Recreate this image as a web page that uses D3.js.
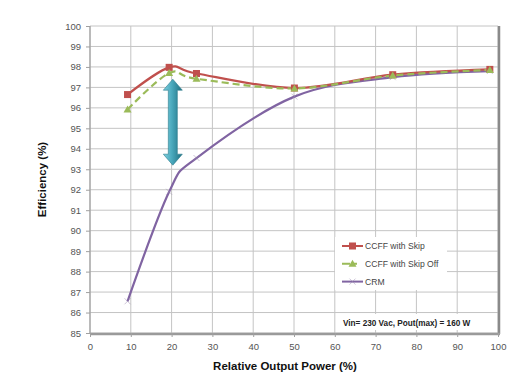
<!DOCTYPE html>
<html lang="en">
<head>
<meta charset="UTF-8">
<title>Efficiency</title>
<script src="https://d3js.org/d3.v7.min.js"></script>
<style>
  body { margin: 0; background: #fff; }
  text { font-family: "Liberation Sans", Arial, sans-serif; }
</style>
</head>
<body>
<svg></svg>
<script>
const W = 530, H = 376;

// data
const loads = [9.2, 19.4, 26.1, 50.1, 74.2, 98.0];
const skipOn = [96.65, 97.98, 97.68, 96.97, 97.62, 97.88];
const skipOff = [95.92, 97.70, 97.42, 96.95, 97.58, 97.85];
const crm = [86.55, 91.9, 93.55, 96.55, 97.5, 97.8];
const seriesNames = ["CCFF with Skip", "CCFF with Skip Off", "CRM"];
const xTicks = d3.range(0, 101, 10);
const yTicks = d3.range(85, 101, 1);
const note = "Vin= 230 Vac, Pout(max) = 160 W";

const colors = ["#c0504d", "#9bbb59", "#8064a2"];

const svg = d3.select("svg").attr("width", W).attr("height", H);

const x = d3.scaleLinear().domain([0, 100]).range([90, 498]);
const y = d3.scaleLinear().domain([85, 100]).range([333, 26]);

// grid
const grid = svg.append("g");
grid.selectAll("line.v").data(xTicks).enter().append("line")
  .attr("x1", d => x(d)).attr("x2", d => x(d))
  .attr("y1", y(100)).attr("y2", y(85))
  .attr("stroke", "#c4c4c4").attr("stroke-width", 1);
grid.selectAll("line.h").data(yTicks).enter().append("line")
  .attr("x1", x(0)).attr("x2", x(100))
  .attr("y1", d => y(d)).attr("y2", d => y(d))
  .attr("stroke", "#c4c4c4").attr("stroke-width", 1);

// frame: shadowed right and bottom edges
svg.append("line").attr("x1", x(100) + 1).attr("x2", x(100) + 1)
  .attr("y1", y(100)).attr("y2", y(85) + 1)
  .attr("stroke", "#8a8a8a").attr("stroke-width", 2.5);
svg.append("line").attr("x1", x(0)).attr("x2", x(100) + 2)
  .attr("y1", y(85) + 1).attr("y2", y(85) + 1)
  .attr("stroke", "#9a9a9a").attr("stroke-width", 2.5);
svg.append("line").attr("x1", x(0)).attr("x2", x(0))
  .attr("y1", y(100)).attr("y2", y(85))
  .attr("stroke", "#a0a0a0").attr("stroke-width", 1.2);

// axes
const xAxis = svg.append("g").attr("transform", `translate(0,${y(85)})`)
  .call(d3.axisBottom(x).tickValues(xTicks).tickSize(4).tickPadding(6));
const yAxis = svg.append("g").attr("transform", `translate(${x(0)},0)`)
  .call(d3.axisLeft(y).tickValues(yTicks).tickSize(4).tickPadding(5));
[xAxis, yAxis].forEach(a => {
  a.select(".domain").remove();
  a.selectAll("line").attr("stroke", "#a0a0a0");
  a.selectAll("text").attr("fill", "#555").attr("font-size", 9.5)
    .style("font-family", "'Liberation Sans', Arial, sans-serif");
});

// curves (Excel-style smoothed lines)
const line = d3.line()
  .x((d, i) => x(loads[i]))
  .y(d => y(d))
  .curve(d3.curveCatmullRom.alpha(0));

svg.append("path").datum(crm).attr("d", line)
  .attr("fill", "none").attr("stroke", colors[2]).attr("stroke-width", 2.2);
svg.append("path").datum(skipOn).attr("d", line)
  .attr("fill", "none").attr("stroke", colors[0]).attr("stroke-width", 2.2);
svg.append("path").datum(skipOff).attr("d", line)
  .attr("fill", "none").attr("stroke", colors[1]).attr("stroke-width", 2.2)
  .attr("stroke-dasharray", "7,4");

// markers
function square(g, cx, cy, c) {
  g.append("rect").attr("x", cx - 3.5).attr("y", cy - 3.5)
    .attr("width", 7).attr("height", 7).attr("fill", c);
}
function triangle(g, cx, cy, c) {
  g.append("path").attr("d", `M${cx},${cy - 4}L${cx + 4},${cy + 3}L${cx - 4},${cy + 3}Z`)
    .attr("fill", c);
}
function cross(g, cx, cy, c) {
  g.append("path").attr("d", `M${cx - 3},${cy - 3}L${cx + 3},${cy + 3}M${cx - 3},${cy + 3}L${cx + 3},${cy - 3}`)
    .attr("stroke", c).attr("stroke-width", 0.8).attr("opacity", 0.6);
}
const markers = svg.append("g");
crm.forEach((v, i) => cross(markers, x(loads[i]), y(v), "#9a8ab0"));
skipOn.forEach((v, i) => square(markers, x(loads[i]), y(v), colors[0]));
skipOff.forEach((v, i) => triangle(markers, x(loads[i]), y(v), colors[1]));

// double-headed arrow at 20 %
const defs = svg.append("defs");
const grad = defs.append("linearGradient").attr("id", "arrowGrad")
  .attr("x1", "0%").attr("x2", "100%");
grad.append("stop").attr("offset", "0%").attr("stop-color", "#7fd0df");
grad.append("stop").attr("offset", "45%").attr("stop-color", "#4aa9bd");
grad.append("stop").attr("offset", "100%").attr("stop-color", "#1f6f80");
const ax = x(20.3), aTop = y(97.4), aBot = y(93.2);
const hw = 9.5, sw = 4.5, hh = 11;
svg.append("path")
  .attr("d", `M${ax},${aTop} L${ax + hw},${aTop + hh} L${ax + sw},${aTop + hh} L${ax + sw},${aBot - hh}
    L${ax + hw},${aBot - hh} L${ax},${aBot} L${ax - hw},${aBot - hh} L${ax - sw},${aBot - hh}
    L${ax - sw},${aTop + hh} L${ax - hw},${aTop + hh} Z`)
  .attr("fill", "url(#arrowGrad)").attr("stroke", "#2b7c8d").attr("stroke-width", 0.6);

// legend
const lg = svg.append("g");
lg.append("rect").attr("x", 335).attr("y", 237).attr("width", 112).attr("height", 53).attr("fill", "#fff");
seriesNames.forEach((name, i) => {
  const ly = 246 + i * 17.8;
  const l = lg.append("line").attr("x1", 342).attr("x2", 363).attr("y1", ly).attr("y2", ly)
    .attr("stroke", colors[i]).attr("stroke-width", 2);
  if (i === 1) l.attr("stroke-dasharray", "8,3,4,6");
  if (i === 0) square(lg, 352.5, ly, colors[0]);
  if (i === 1) triangle(lg, 352.5, ly, colors[1]);
  if (i === 2) cross(lg, 352.5, ly, "#9a8ab0");
  lg.append("text").attr("x", 365).attr("y", ly + 3.3)
    .attr("font-size", 8.6).attr("fill", "#444").text(name);
});

// note
svg.append("rect").attr("x", 338).attr("y", 314).attr("width", 154).attr("height", 16).attr("fill", "#fff");
svg.append("text").attr("x", 343).attr("y", 326)
  .attr("font-size", 8.2).attr("font-weight", "bold").attr("fill", "#222").text(note);

// axis titles
svg.append("text").attr("x", 285).attr("y", 370).attr("text-anchor", "middle")
  .attr("font-size", 11.5).attr("font-weight", "bold").attr("fill", "#111")
  .text("Relative Output Power (%)");
svg.append("text").attr("transform", `translate(46,${(y(100) + y(85)) / 2}) rotate(-90)`)
  .attr("text-anchor", "middle")
  .attr("font-size", 11.5).attr("font-weight", "bold").attr("fill", "#111")
  .text("Efficiency (%)");
</script>
</body>
</html>
